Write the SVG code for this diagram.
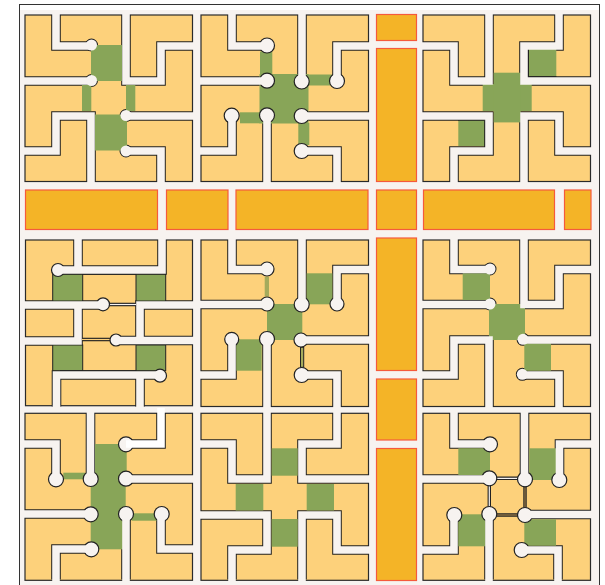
<svg xmlns="http://www.w3.org/2000/svg" width="605" height="585" viewBox="0 0 605 585">
<style>
.t{fill:#fdd17b;stroke:#2a2a2a;stroke-width:1.2}
.g{fill:#88a558}
.gk{fill:#88a558;stroke:#222;stroke-width:1}
.k{fill:none;stroke:#222;stroke-width:9.6}
.w{fill:none;stroke:#f7f3f0;stroke-width:7.6}
.c{fill:#f7f3f0;stroke:#222;stroke-width:1.2}
.n{fill:#222;stroke:#222;stroke-width:2}
.m{fill:#f7f3f0}
.l{fill:none;stroke:#222;stroke-width:1}
.a{fill:none;stroke:#222;stroke-width:3.4}
.b{fill:none;stroke:#f7f3f0;stroke-width:1.2}
.br{fill:none;stroke:#8a7044;stroke-width:1.4}
.bar{fill:#f4b427;stroke:#f55a3c;stroke-width:1.2}
</style>
<defs>
<clipPath id="tc"><rect x="25" y="15" width="167.5" height="166.5"/></clipPath>
</defs>
<rect width="605" height="585" fill="#ffffff"/>
<rect x="19.5" y="4.5" width="580" height="600" fill="#ffffff" stroke="#333" stroke-width="1"/>
<rect x="20" y="10" width="579" height="575" fill="#f7f3f0"/>

<g id="bars">
<rect class="bar" x="376.5" y="14.5" width="40" height="26"/>
<rect class="bar" x="376.5" y="48.5" width="40" height="133"/>
<rect class="bar" x="25.5" y="190" width="132" height="39.5"/>
<rect class="bar" x="166.5" y="190" width="61.5" height="39.5"/>
<rect class="bar" x="236" y="190" width="132" height="39.5"/>
<rect class="bar" x="376.5" y="190" width="40" height="39.5"/>
<rect class="bar" x="423.5" y="190" width="131" height="39.5"/>
<rect class="bar" x="564.5" y="190" width="26.5" height="39.5"/>
<rect class="bar" x="376.5" y="238" width="40" height="132.5"/>
<rect class="bar" x="376.5" y="379" width="40" height="61"/>
<rect class="bar" x="376.5" y="448.5" width="40" height="132"/>
</g>

<g id="tile1">
<rect class="t" x="25" y="15" width="167.5" height="166.5"/>
<g clip-path="url(#tc)">
<path class="k" d="M56,10V46H91M20,81H91M126,10V81H161V46H198M198,116H126M161,187V151H126M91,187V116H56V151H20"/>
<circle class="n" cx="91.5" cy="45" r="5.5"/><circle class="n" cx="91.5" cy="80.5" r="5.5"/><circle class="n" cx="126" cy="115.5" r="5.5"/><circle class="n" cx="126" cy="151" r="5.5"/>
</g>
<rect class="g" x="91" y="45" width="31" height="36"/>
<rect class="g" x="82" y="85" width="9.3" height="26"/>
<rect class="g" x="126" y="85" width="9.3" height="26"/>
<rect class="g" x="95" y="114.5" width="32" height="36"/>
<path class="w" d="M56,10V46H91M20,81H91M126,10V81H161V46H198M198,116H126M161,187V151H126M91,187V116H56V151H20"/>
<circle class="m" cx="91.5" cy="45" r="5.5"/><circle class="m" cx="91.5" cy="80.5" r="5.5"/><circle class="m" cx="126" cy="115.5" r="5.5"/><circle class="m" cx="126" cy="151" r="5.5"/>
</g>

<g id="tile2" transform="translate(176,0)">
<rect class="t" x="25" y="15" width="167.5" height="166.5"/>
<g clip-path="url(#tc)">
<path class="k" d="M56,10V46H91M20,81H91M126,10V81M198,46H161V81M198,116H126M161,187V151H126M91,187V116M20,151H56V116"/>
</g>
<rect class="g" x="83.5" y="74" width="49" height="49.5"/>
<rect class="g" x="84" y="51.5" width="12.3" height="23"/>
<rect class="g" x="132" y="74.5" width="24" height="11"/>
<rect class="g" x="64" y="112.3" width="20" height="11"/>
<rect class="g" x="122.3" y="123" width="11" height="22"/>
<circle class="c" cx="91" cy="45.5" r="7.5"/><circle class="c" cx="91" cy="80.7" r="7.5"/><circle class="c" cx="125.7" cy="81.5" r="7.5"/><circle class="c" cx="161" cy="81" r="7.5"/><circle class="c" cx="125.7" cy="116" r="7.5"/><circle class="c" cx="125.7" cy="151" r="7.5"/><circle class="c" cx="91" cy="115.3" r="7.5"/><circle class="c" cx="55.7" cy="115.7" r="7.5"/>
<path class="w" d="M56,10V46H91M20,81H91M126,10V81M198,46H161V81M198,116H126M161,187V151H126M91,187V116M20,151H56V116"/>
</g>

<g id="tile3" transform="translate(398,0)">
<rect class="t" x="25" y="15" width="167.5" height="166.5"/>
<g clip-path="url(#tc)">
<path class="k" d="M91,10V81H56V46H20M198,81H126V46H161V10M20,116H91V151H56V187M126,187V116H161V151H198"/>
</g>
<rect class="g" x="84.7" y="84" width="49" height="27"/>
<rect class="g" x="95.7" y="72.7" width="27" height="49.7"/>
<rect class="g" x="131" y="48.7" width="27.3" height="27.5"/>
<rect class="g" x="60.3" y="120" width="26.4" height="26"/>
<path class="l" d="M130.5,49V76.6H158.5M60,120.3H86.7V146"/>
<path class="w" d="M91,10V81H56V46H20M198,81H126V46H161V10M20,116H91V151H56V187M126,187V116H161V151H198"/>
</g>

<g id="tile4" transform="translate(0,225)">
<rect class="t" x="25.5" y="15" width="167" height="165.7"/>
<g clip-path="url(#tc)">
<path class="k" d="M78,10V45M58,45H162V10M20,80H103M198,80H140V116M116,115.5H198M78,80V116H20M56.5,187V150H160M140,150V187"/>
</g>
<rect class="gk" x="52.7" y="49.3" width="30" height="26.7"/>
<rect class="gk" x="136" y="49.3" width="29.7" height="26.7"/>
<rect class="gk" x="52.7" y="120" width="30" height="25.7"/>
<rect class="gk" x="136" y="120" width="29.7" height="25.7"/>
<path class="l" d="M82.7,49.3H136M60,145.7H136"/>
<path class="a" d="M109,79.5H136M82,114.5H112"/>
<path class="b" d="M109,79.5H136"/>
<path style="fill:none;stroke:#fdd17b;stroke-width:1.2" d="M82,114.5H112"/>
<circle class="c" cx="58" cy="45" r="6.5"/><circle class="c" cx="103" cy="79.3" r="6.5"/><circle class="c" cx="116" cy="115" r="6"/><circle class="c" cx="160" cy="150.7" r="6.5"/>
<path class="w" d="M78,10V45M58,45H162V10M20,80H103M198,80H140V116M116,115.5H198M78,80V116H20M56.5,187V150H160M140,150V187"/>
</g>

<g id="tile5" transform="translate(176,225)">
<rect class="t" x="25" y="15" width="167.5" height="166.5"/>
<g clip-path="url(#tc)">
<path class="k" d="M56,10V44.5H91M20,79.5H91M126,10V79.5M198,44.5H161V79M198,115H125M161,187V150H126M91,187V114M20,150H56V114"/>
</g>
<rect class="g" x="91" y="79" width="35.3" height="36"/>
<rect class="g" x="130.7" y="48.3" width="25.6" height="31"/>
<rect class="g" x="60.3" y="114.3" width="25.4" height="31.4"/>
<rect x="88.7" y="51.7" width="4.3" height="20" fill="#a5ab5c"/>
<rect x="124.5" y="122.3" width="3.2" height="20" fill="#a5ab5c" stroke="#222" stroke-width="1"/>
<circle class="c" cx="91" cy="44" r="7"/><circle class="c" cx="91" cy="79" r="7"/><circle class="c" cx="125.7" cy="79.5" r="7.5"/><circle class="c" cx="161" cy="79" r="7"/><circle class="c" cx="125" cy="115" r="7"/><circle class="c" cx="125.7" cy="150" r="7.5"/><circle class="c" cx="91" cy="114" r="7.5"/><circle class="c" cx="55.7" cy="114.3" r="7"/>
<path class="w" d="M56,10V44.5H91M20,79.5H91M126,10V79.5M198,44.5H161V79M198,115H125M161,187V150H126M91,187V114M20,150H56V114"/>
</g>

<g id="tile6" transform="translate(398,225)">
<rect class="t" x="25" y="15" width="167.5" height="166.5"/>
<g clip-path="url(#tc)">
<path class="k" d="M56,10V44.5H92M20,79.5H92M126,10V79.5H161V44.5H198M198,115H125M161,187V150H124M91,187V115H56V150H20"/>
<circle class="n" cx="92" cy="44" r="5.5"/><circle class="n" cx="92" cy="79" r="5.5"/><circle class="n" cx="125" cy="114.3" r="5.5"/><circle class="n" cx="124.3" cy="149.3" r="5.5"/>
</g>
<rect class="g" x="91" y="79" width="36" height="36"/>
<rect class="g" x="64.7" y="48.3" width="27.3" height="26.7"/>
<rect class="g" x="126.3" y="118.3" width="26.7" height="27.4"/>
<path class="w" d="M56,10V44.5H92M20,79.5H92M126,10V79.5H161V44.5H198M198,115H125M161,187V150H124M91,187V115H56V150H20"/>
<circle class="m" cx="92" cy="44" r="5.5"/><circle class="m" cx="92" cy="79" r="5.5"/><circle class="m" cx="125" cy="114.3" r="5.5"/><circle class="m" cx="124.3" cy="149.3" r="5.5"/>
</g>

<g id="tile7" transform="translate(0,398)">
<rect class="t" x="25" y="15.3" width="167.5" height="167"/>
<g clip-path="url(#tc)">
<path class="k" d="M90.5,10V81M20,46H56V81M126,46H161V10M198,81H126M20,116H91M126,187V116M198,151H161V116M56,187V151H91"/>
</g>
<rect class="g" x="95" y="46" width="31.7" height="35"/>
<rect class="g" x="90.7" y="77" width="35" height="74.3"/>
<rect class="g" x="63.3" y="74.7" width="21.7" height="6.6"/>
<rect class="g" x="131.7" y="115.3" width="25" height="7.4"/>
<circle class="c" cx="90.7" cy="81" r="7.5"/><circle class="c" cx="56" cy="81.3" r="7.5"/><circle class="c" cx="126" cy="46.3" r="7.5"/><circle class="c" cx="126" cy="80.7" r="7.5"/><circle class="c" cx="90.7" cy="116.3" r="7.5"/><circle class="c" cx="126" cy="116" r="7.5"/><circle class="c" cx="161.7" cy="116" r="7.5"/><circle class="c" cx="91.3" cy="151.3" r="7.5"/>
<path class="w" d="M90.5,10V81M20,46H56V81M198,81H126M20,116H91M126,187V116M198,151H161V116M56,187V151H91"/>
<path style="fill:none;stroke:#fff;stroke-width:7.6" d="M126,46H161V10"/>
</g>

<g id="tile8" transform="translate(176,398)">
<rect class="t" x="25" y="15.3" width="167.5" height="167"/>
<g clip-path="url(#tc)">
<path class="k" d="M91,10V81H56V46H20M161,10V46H126V81H198M20,117H91V152H56V187M126,187V117H161V152H198"/>
</g>
<rect class="g" x="95.7" y="50.3" width="26" height="27.4"/>
<rect class="g" x="59.7" y="86" width="27.6" height="26.5"/>
<rect class="g" x="130.7" y="86" width="27.3" height="26.5"/>
<rect class="g" x="95.7" y="121" width="26" height="27.7"/>
<path class="w" d="M91,10V81H56V46H20M161,10V46H126V81H198M20,117H91V152H56V187M126,187V117H161V152H198"/>
</g>

<g id="tile9" transform="translate(398,398)">
<rect class="t" x="25" y="15.3" width="167.5" height="167"/>
<g clip-path="url(#tc)">
<path class="k" d="M56,10V46H92M20,81H91M126.5,10V81M198,46H161.5V82M198,116.5H127M160,187V152H124M91,187V116M20,152H56V117"/>
</g>
<rect class="g" x="60.3" y="50.3" width="31.7" height="26.7"/>
<rect class="g" x="131.3" y="50.3" width="26.7" height="31.7"/>
<rect class="g" x="60.3" y="116.3" width="27.4" height="32"/>
<rect class="g" x="126.3" y="121.3" width="31.7" height="26.4"/>
<path class="a" d="M91,80.3H127M91,117H127M91.3,81V117M127,81V117"/>
<path class="b" d="M91,80.3H127M91.3,81V117"/>
<path class="br" d="M91,117H127M127,81V117"/>
<circle class="c" cx="92" cy="46.3" r="7.5"/><circle class="c" cx="91.3" cy="80.3" r="7.5"/><circle class="c" cx="127" cy="81.3" r="7.5"/><circle class="c" cx="161.3" cy="82" r="7.5"/><circle class="c" cx="127" cy="117" r="7.5"/><circle class="c" cx="123.7" cy="152" r="7.5"/><circle class="c" cx="91.3" cy="116" r="7.5"/><circle class="c" cx="56.3" cy="117" r="7.5"/>
<path class="w" d="M56,10V46H92M20,81H91M126.5,10V81M198,46H161.5V82M198,116.5H127M160,187V152H124M91,187V116M20,152H56V117"/>
</g>
</svg>
